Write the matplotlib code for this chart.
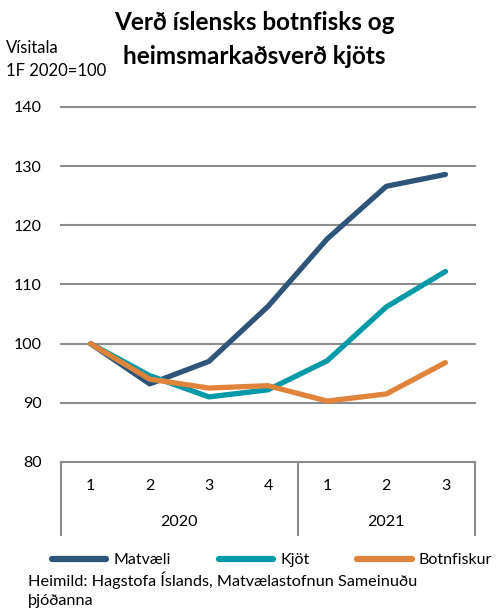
import matplotlib.pyplot as plt
import matplotlib.transforms as mtransforms
from matplotlib.lines import Line2D
import numpy as np

plt.rcParams['font.family'] = ['Lato', 'DejaVu Sans']
plt.rcParams['font.size'] = 11

# Data
quarters = ['1', '2', '3', '4', '1', '2', '3']
years = ['2020', '2021']
year_span = [4, 3]  # quarters in each year
matvaeli = [100, 93.2, 97.0, 106.3, 117.7, 126.6, 128.6]
kjot = [100, 94.6, 91.0, 92.2, 97.1, 106.2, 112.2]
botnfiskur = [100, 94.0, 92.5, 92.9, 90.3, 91.5, 96.8]

colors = {'Matvæli': '#2E5479', 'Kjöt': '#0099A8', 'Botnfiskur': '#E0843C'}

fig = plt.figure(figsize=(4.99, 6.10), dpi=100)
ax = fig.add_axes([61 / 499, 1 - 462 / 610, 414 / 499, 355 / 610])

x = np.arange(len(quarters))
series = [('Matvæli', matvaeli), ('Kjöt', kjot), ('Botnfiskur', botnfiskur)]
for name, vals in series:
    ax.plot(x, vals, color=colors[name], linewidth=3.8, solid_capstyle='round',
            solid_joinstyle='round')

ax.set_xlim(-0.5, len(quarters) - 0.5)
ax.set_ylim(80, 140)
ax.set_yticks(np.arange(80, 141, 10))
for yv in np.arange(90, 141, 10):
    ax.axhline(yv, color='#8C8C8C', linewidth=1.5, zorder=0, clip_on=False)

for s in ['top', 'right', 'left']:
    ax.spines[s].set_visible(False)
ax.spines['bottom'].set_color('#8C8C8C')
ax.spines['bottom'].set_linewidth(1.5)
ax.tick_params(axis='y', length=0, pad=14, labelsize=11.5)
ax.tick_params(axis='x', length=0, pad=12, labelsize=11.5)
ax.set_xticks(x)
ax.set_xticklabels(quarters)

# Multi-level category axis: year labels and separators
trans = mtransforms.blended_transform_factory(ax.transData, ax.transAxes)
line_bottom = -73 / 355
start = -0.5
ax.plot([start, start], [0, line_bottom], transform=trans, color='#8C8C8C',
        linewidth=1.5, clip_on=False)
for yr, n in zip(years, year_span):
    end = start + n
    ax.plot([end, end], [0, line_bottom], transform=trans, color='#8C8C8C',
            linewidth=1.5, clip_on=False)
    ax.text((start + end) / 2, -60 / 355, yr, transform=trans, ha='center',
            va='center', fontsize=11.5)
    start = end

fig.text(0.51, 1 - 23 / 610, 'Verð íslensks botnfisks og', ha='center', va='center',
         fontsize=17.5, fontweight='bold')
fig.text(0.51, 1 - 56 / 610, 'heimsmarkaðsverð kjöts', ha='center', va='center',
         fontsize=17.5, fontweight='bold')
fig.text(6 / 499, 1 - 48 / 610, 'Vísitala', ha='left', va='center', fontsize=12)
fig.text(6 / 499, 1 - 71 / 610, '1F 2020=100', ha='left', va='center', fontsize=12)

handles = [Line2D([], [], color=colors[n], linewidth=4.5, solid_capstyle='round')
           for n, _ in series]
fig.legend(handles, [n for n, _ in series], loc='center left',
           bbox_to_anchor=(52 / 499, 1 - 560 / 610), ncol=3, frameon=False,
           handlelength=3.4, columnspacing=3.0, handletextpad=0.45, fontsize=11.5,
           borderaxespad=0, borderpad=0)
fig.text(28 / 499, 1 - 580 / 610, 'Heimild: Hagstofa Íslands, Matvælastofnun Sameinuðu',
         ha='left', va='center', fontsize=11.7)
fig.text(28 / 499, 1 - 601 / 610, 'þjóðanna', ha='left', va='center', fontsize=11.7)

fig.savefig('out.png', dpi=100)
